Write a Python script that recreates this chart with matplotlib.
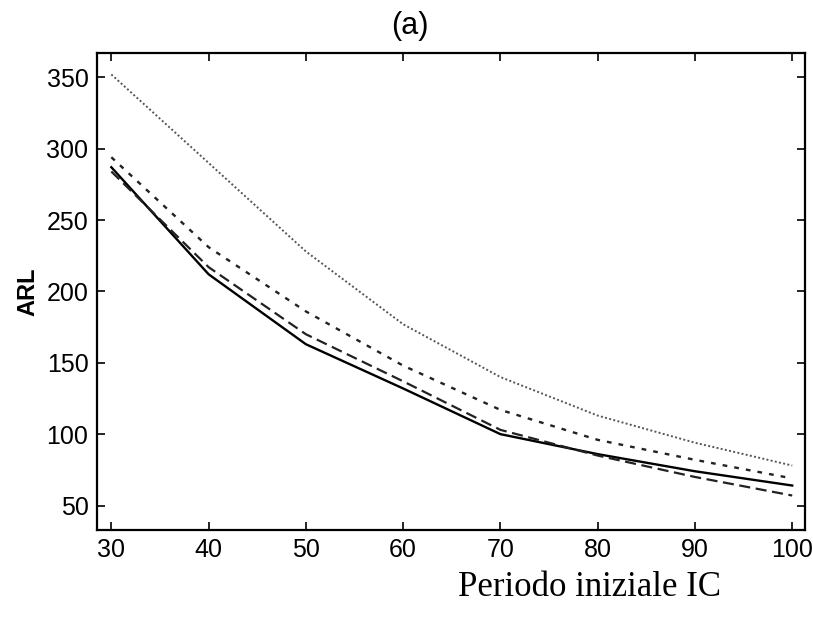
import matplotlib
matplotlib.use("Agg")
from matplotlib import pyplot as plt

# Data
periods = [30, 40, 50, 60, 70, 80, 90, 100]
arl_dotted = [352, 290, 228, 177, 140, 113, 94, 78]
arl_short_dash = [294, 231, 186, 148, 117, 96, 82, 69]
arl_solid = [287, 212, 163, 132, 100, 86, 74, 64]
arl_long_dash = [284, 217, 170, 137, 103, 85, 70, 57]

x_ticks = [30, 40, 50, 60, 70, 80, 90, 100]
y_ticks = [50, 100, 150, 200, 250, 300, 350]

plt.rcParams["font.family"] = ["Liberation Sans", "DejaVu Sans"]

fig = plt.figure(figsize=(8.13, 6.24), dpi=100)
ax = fig.add_axes([0.119, 0.151, 0.871, 0.764])

ax.plot(periods, arl_dotted, color="#555555", linestyle=(0, (1, 1.2)), linewidth=1.4)
ax.plot(periods, arl_short_dash, color="#222222", linestyle=(0, (2, 3)), linewidth=1.7)
ax.plot(periods, arl_solid, color="black", linestyle="-", linewidth=1.7)
ax.plot(periods, arl_long_dash, color="#222222", linestyle=(0, (5, 2.5)), linewidth=1.6)

ax.set_xlim(28.5, 101.3)
ax.set_ylim(33, 367)
ax.set_xticks(x_ticks)
ax.set_yticks(y_ticks)
ax.tick_params(direction="in", top=True, right=True, length=6, width=1.2,
               labelsize=18, pad=6)
for spine in ax.spines.values():
    spine.set_linewidth(1.6)

ax.set_ylabel("ARL", fontsize=17, fontweight="bold", labelpad=5)
ax.set_title("(a)", fontsize=22, pad=14, x=0.442)

fig.text(0.725, 0.058, "Periodo iniziale IC", fontsize=25,
         family=["Liberation Serif", "DejaVu Serif"], ha="center", va="center")

fig.savefig("out.png", dpi=100)
plt.close(fig)
